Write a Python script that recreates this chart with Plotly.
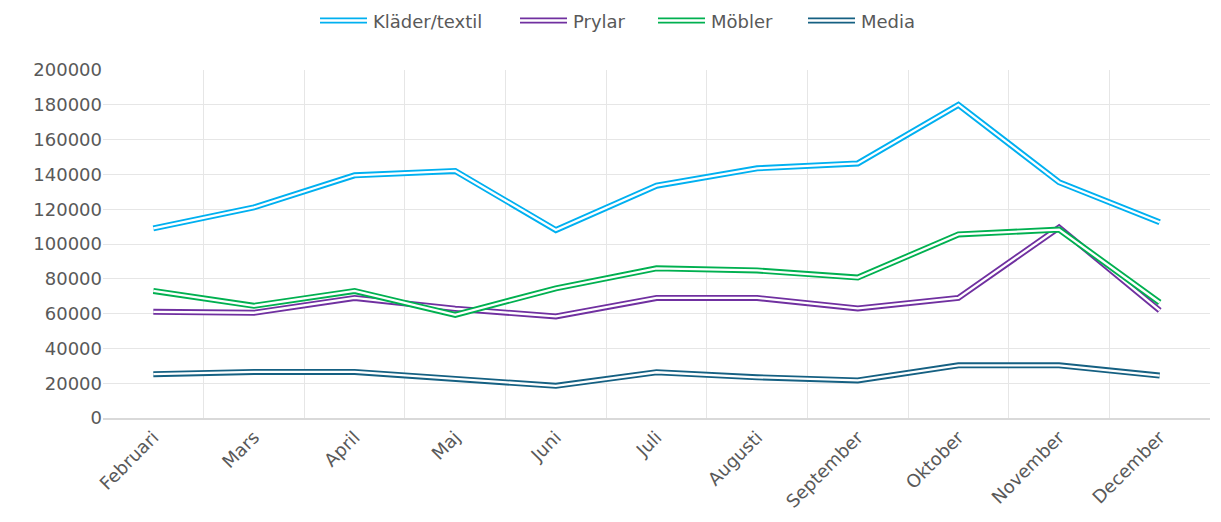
import plotly.graph_objects as go

months = ["Februari", "Mars", "April", "Maj", "Juni", "Juli", "Augusti",
          "September", "Oktober", "November", "December"]

klader = [109000, 121000, 139500, 142000, 108000, 133500, 143500, 146300, 180000, 135500, 112500]
prylar = [61000, 60500, 69000, 62800, 58400, 69000, 69000, 63000, 69000, 109500, 61800]
mobler = [73000, 64500, 73000, 59300, 74500, 86000, 84800, 80700, 105500, 108300, 66400]
media = [25200, 26500, 26500, 22500, 18500, 26300, 23400, 21600, 30300, 30300, 24400]

names = ["Kläder/textil", "Prylar", "Möbler", "Media"]
colors = ["#00B0F0", "#7030A0", "#00B050", "#156082"]
values = [klader, prylar, mobler, media]

OUTER_W = 6
INNER_W = 2.3
TEXT_COLOR = "#595959"
FONT = "DejaVu Sans, Noto Sans, sans-serif"

fig = go.Figure()
for name, vals, color in zip(names, values, colors):
    fig.add_trace(go.Scatter(x=months, y=vals, mode="lines", name=name,
                             line=dict(color=color, width=OUTER_W), legendgroup=name,
                             showlegend=False))
    fig.add_trace(go.Scatter(x=months, y=vals, mode="lines", name=name,
                             line=dict(color="white", width=INNER_W), legendgroup=name,
                             showlegend=False, hoverinfo="skip"))

# Page geometry (browser body margin of 8px is accounted for in the margins)
PLOT_L, PLOT_R, PLOT_T, PLOT_B = 103, 1210, 70, 418


def px_x(px):
    return (px - PLOT_L) / (PLOT_R - PLOT_L)


def px_y(py):
    return (PLOT_B - py) / (PLOT_B - PLOT_T)


# Custom legend with double-line symbols
legend_starts = [320, 520, 658, 808]
legend_y = 20.5
sym_len = 47
shapes = []
annotations = []
for start, name, color in zip(legend_starts, names, colors):
    for w, c in ((OUTER_W, color), (INNER_W, "white")):
        shapes.append(dict(type="line", xref="paper", yref="paper",
                           x0=px_x(start), x1=px_x(start + sym_len),
                           y0=px_y(legend_y), y1=px_y(legend_y),
                           line=dict(color=c, width=w)))
    annotations.append(dict(text=name, xref="paper", yref="paper",
                            x=px_x(start + sym_len + 4), y=px_y(legend_y + 0.5),
                            xanchor="left", yanchor="middle", showarrow=False,
                            font=dict(family=FONT, size=18, color=TEXT_COLOR)))

fig.update_layout(
    width=1205, height=506,
    margin=dict(l=95, r=3, t=62, b=96),
    paper_bgcolor="white", plot_bgcolor="white",
    font=dict(family=FONT, size=18, color=TEXT_COLOR),
    showlegend=False,
    shapes=shapes,
    annotations=annotations,
)
fig.update_xaxes(type="category", range=[-0.5, 10.5], tickson="boundaries",
                 showgrid=True, gridcolor="#E6E6E6", gridwidth=1,
                 showline=True, linecolor="#D9D9D9", linewidth=1.5,
                 ticks="", tickangle=-45, tickfont=dict(size=18, color=TEXT_COLOR),
                 mirror=False, zeroline=False)
fig.update_yaxes(range=[0, 200000], dtick=20000, tickformat="d",
                 showgrid=True, gridcolor="#E6E6E6", gridwidth=1,
                 zeroline=False, showline=False, ticks="",
                 tickfont=dict(size=18, color=TEXT_COLOR))

fig.write_html("out.html")
